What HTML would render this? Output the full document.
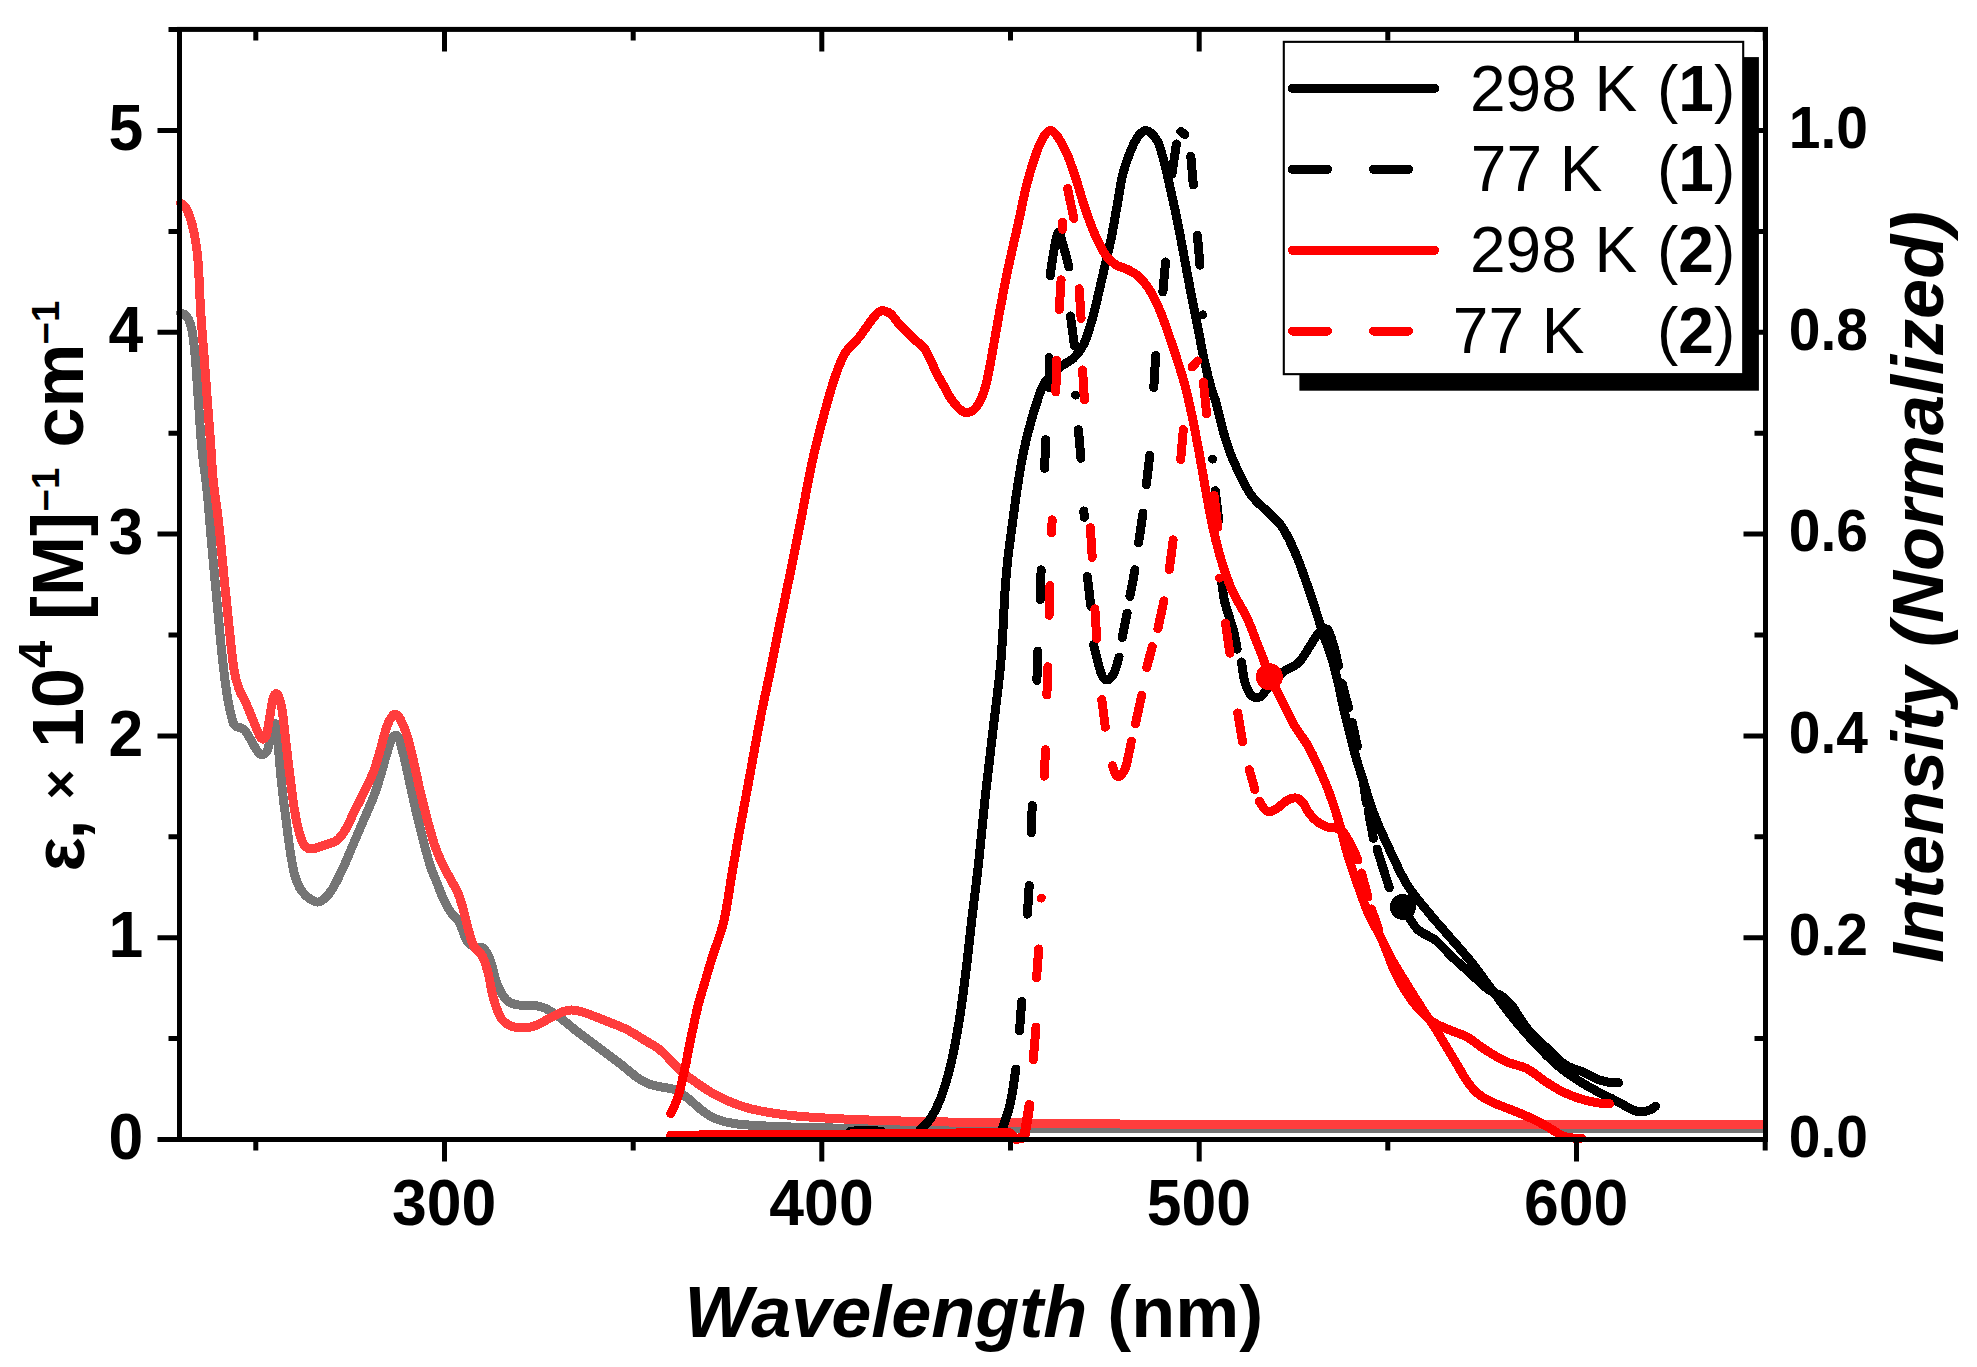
<!DOCTYPE html>
<html lang="en"><head><meta charset="utf-8"><title>Absorption and emission spectra</title>
<style>html,body{margin:0;padding:0;background:#fff}body{width:1977px;height:1367px;overflow:hidden}svg{display:block}text{font-family:"Liberation Sans",sans-serif;fill:#000}.b{font-weight:bold}.i{font-style:italic}.tk{font-weight:bold;font-size:62.5px}.tkr{font-weight:bold;font-size:57px}.ttl{font-weight:bold;font-size:72px}.lg{font-size:64px}.c{fill:none;stroke-linecap:round;stroke-linejoin:round}</style></head><body>
<svg width="1977" height="1367" viewBox="0 0 1977 1367">
<rect width="1977" height="1367" fill="#fff"/>
<g class="c" shape-rendering="crispEdges">
<path d="M180.5,313.0 C181.6,313.6 184.9,313.6 186.8,316.4 C188.7,319.2 190.5,323.2 191.9,329.9 C193.3,336.6 194.1,344.4 195.2,356.8 C196.3,369.2 197.5,388.5 198.6,404.0 C199.7,419.5 200.6,435.6 202.0,450.0 C203.4,464.4 205.3,474.2 207.0,490.5 C208.7,506.8 210.3,529.2 212.0,547.7 C213.7,566.2 215.3,583.7 217.0,601.6 C218.7,619.5 220.4,639.7 222.1,655.4 C223.8,671.1 225.5,685.1 227.2,695.8 C228.9,706.5 230.8,714.4 232.2,719.4 C233.6,724.4 233.6,724.3 235.6,726.0 C237.6,727.7 241.5,727.2 244.0,729.5 C246.5,731.8 248.4,736.0 250.7,739.6 C252.9,743.2 255.5,748.8 257.5,751.3 C259.5,753.8 260.8,755.0 262.5,754.7 C264.2,754.4 266.2,752.8 267.6,749.7 C269.0,746.6 269.9,740.2 271.0,736.2 C272.1,732.2 273.3,727.5 274.3,726.0 C275.3,724.5 276.1,721.4 277.0,727.0 C277.9,732.6 278.4,748.7 279.4,759.8 C280.3,770.9 281.6,783.3 282.7,793.4 C283.8,803.5 284.9,810.8 286.1,820.3 C287.3,829.8 288.7,841.6 290.1,850.6 C291.5,859.6 292.9,868.0 294.5,874.2 C296.1,880.4 297.6,884.1 299.6,887.7 C301.6,891.3 303.4,893.6 306.3,896.0 C309.2,898.4 313.9,901.7 317.0,902.0 C320.1,902.3 322.3,900.4 325.0,898.0 C327.7,895.6 330.1,892.8 333.2,887.7 C336.2,882.6 339.9,874.8 343.3,867.5 C346.7,860.2 350.0,851.8 353.4,843.9 C356.8,836.0 360.1,828.1 363.5,820.3 C366.9,812.4 370.8,804.1 373.6,796.8 C376.4,789.5 378.1,783.9 380.3,776.6 C382.5,769.3 385.0,759.4 387.0,753.0 C389.0,746.6 390.7,741.1 392.1,738.2 C393.5,735.3 394.4,735.6 395.5,735.6 C396.6,735.6 397.4,734.7 398.8,738.2 C400.2,741.7 401.9,748.3 403.9,756.4 C405.9,764.5 408.4,776.6 410.6,786.7 C412.9,796.8 415.1,807.5 417.4,817.0 C419.6,826.5 421.9,835.5 424.1,843.9 C426.3,852.3 428.6,860.8 430.8,867.5 C433.1,874.2 435.6,879.2 437.6,884.3 C439.6,889.4 440.8,893.4 443.0,898.0 C445.2,902.6 447.9,907.9 450.6,912.0 C453.4,916.1 456.8,918.0 459.5,922.7 C462.2,927.5 463.9,936.3 466.6,940.5 C469.3,944.7 472.8,946.5 475.5,947.7 C478.2,948.9 480.2,945.9 482.6,947.7 C485.0,949.5 487.3,952.5 489.7,958.4 C492.1,964.3 494.2,976.5 496.9,983.3 C499.6,990.1 502.5,995.7 505.8,999.3 C509.1,1002.9 511.8,1003.7 516.5,1004.7 C521.2,1005.7 529.5,1004.8 534.3,1005.4 C539.0,1006.0 540.9,1006.3 545.0,1008.2 C549.1,1010.1 553.9,1013.1 559.2,1017.0 C564.5,1020.9 570.5,1026.3 577.0,1031.4 C583.5,1036.5 591.3,1042.1 598.4,1047.4 C605.5,1052.7 613.2,1058.4 619.7,1063.4 C626.2,1068.5 632.8,1074.3 637.5,1077.7 C642.2,1081.1 645.0,1082.3 648.2,1083.7 C651.5,1085.1 652.7,1085.2 657.0,1086.2 C661.3,1087.2 669.1,1087.6 674.2,1089.6 C679.3,1091.6 683.2,1094.8 687.8,1098.2 C692.3,1101.6 696.9,1106.6 701.5,1110.0 C706.1,1113.4 709.5,1116.4 715.2,1118.7 C720.9,1121.0 725.5,1122.5 735.7,1123.8 C746.0,1125.1 758.5,1125.8 776.7,1126.5 C794.9,1127.2 807.8,1127.9 845.0,1128.2 C882.2,1128.5 847.0,1128.5 1000.0,1128.5 C1153.0,1128.5 1635.8,1128.5 1763.0,1128.5" stroke="#757575" stroke-width="9"/>
<path d="M180.5,203.0 C181.4,203.8 184.1,204.5 186.0,208.0 C187.9,211.5 190.3,217.7 192.0,224.0 C193.7,230.3 195.2,238.5 196.3,245.8 C197.4,253.1 197.8,256.8 198.5,267.8 C199.2,278.8 199.8,297.1 200.7,311.7 C201.6,326.3 202.9,341.0 204.0,355.6 C205.1,370.2 206.2,384.9 207.3,399.5 C208.4,414.1 209.6,429.9 210.6,443.3 C211.6,456.7 211.8,466.6 213.2,480.0 C214.6,493.4 217.0,508.2 218.8,524.0 C220.6,539.8 222.1,557.8 223.8,574.6 C225.5,591.4 227.2,609.3 228.9,625.0 C230.6,640.7 232.2,658.2 233.9,668.9 C235.6,679.6 237.0,683.4 239.0,689.0 C241.0,694.6 243.2,696.9 245.7,702.5 C248.2,708.1 251.6,716.8 254.1,722.7 C256.6,728.6 258.9,735.6 260.9,737.9 C262.9,740.1 264.5,739.3 265.9,736.2 C267.3,733.1 268.1,725.9 269.3,719.4 C270.5,712.9 271.9,701.6 273.3,697.5 C274.7,693.4 276.2,692.9 277.7,694.8 C279.1,696.7 280.6,701.0 282.0,709.0 C283.4,717.0 284.7,731.7 286.0,743.0 C287.3,754.3 288.6,765.4 290.0,776.6 C291.4,787.8 292.9,800.5 294.5,810.0 C296.1,819.5 297.9,827.9 299.6,833.8 C301.3,839.7 302.7,843.1 304.6,845.6 C306.6,848.1 308.2,849.0 311.3,849.0 C314.4,849.0 318.8,847.0 323.0,845.6 C327.2,844.2 332.9,843.0 336.6,840.5 C340.3,838.0 342.2,834.9 345.0,830.4 C347.8,825.9 350.3,819.8 353.4,813.6 C356.5,807.4 360.1,800.4 363.5,793.4 C366.9,786.4 370.8,778.8 373.6,771.5 C376.4,764.2 378.1,757.3 380.3,749.7 C382.5,742.1 385.0,731.6 387.0,726.0 C389.0,720.4 390.7,718.2 392.1,716.3 C393.5,714.4 394.2,713.9 395.6,714.4 C397.0,714.9 398.6,715.9 400.5,719.5 C402.4,723.1 405.1,729.0 407.3,736.2 C409.6,743.5 411.8,753.5 414.0,763.0 C416.2,772.5 418.4,783.9 420.7,793.4 C422.9,802.9 425.2,811.9 427.5,820.3 C429.8,828.7 432.0,837.2 434.2,843.9 C436.4,850.6 438.4,855.2 440.9,860.7 C443.4,866.2 446.5,871.7 449.3,877.0 C452.1,882.3 455.4,887.2 457.7,892.5 C460.0,897.8 461.2,902.3 463.0,908.5 C464.8,914.7 466.6,923.7 468.4,929.9 C470.2,936.1 471.3,941.4 473.7,945.9 C476.1,950.4 480.2,952.1 482.6,956.6 C485.0,961.1 486.2,965.8 488.0,972.6 C489.8,979.4 491.2,990.1 493.3,997.5 C495.4,1004.9 497.7,1012.5 500.4,1017.1 C503.1,1021.7 505.7,1023.5 509.3,1025.3 C512.9,1027.1 517.6,1027.7 521.8,1027.8 C526.0,1027.9 529.8,1027.5 534.3,1026.0 C538.8,1024.5 543.8,1021.3 548.5,1018.9 C553.2,1016.5 558.9,1013.3 562.8,1011.8 C566.7,1010.3 568.2,1009.9 571.7,1010.0 C575.2,1010.1 578.5,1010.7 584.1,1012.5 C589.7,1014.3 598.4,1017.9 605.5,1020.7 C612.6,1023.6 620.4,1026.3 626.9,1029.6 C633.4,1032.9 639.1,1036.8 644.7,1040.3 C650.3,1043.8 654.5,1045.2 660.5,1050.3 C666.5,1055.4 674.2,1064.8 681.0,1070.8 C687.8,1076.8 694.7,1081.6 701.5,1086.2 C708.3,1090.8 714.0,1094.5 722.0,1098.2 C730.0,1101.9 739.0,1105.7 749.3,1108.4 C759.5,1111.1 772.1,1113.1 783.5,1114.6 C794.9,1116.1 801.8,1116.6 817.7,1117.6 C833.7,1118.6 857.6,1119.7 879.2,1120.4 C900.8,1121.1 913.4,1121.4 947.5,1122.0 C981.6,1122.6 1025.2,1123.4 1084.0,1123.8 C1142.8,1124.2 1186.8,1124.4 1300.0,1124.5 C1413.2,1124.6 1685.8,1124.5 1763.0,1124.5" stroke="#ff3d3d" stroke-width="9"/>
<path d="M920.0,1130.0 C921.7,1128.1 926.9,1124.0 930.4,1118.7 C933.9,1113.4 937.3,1107.3 940.7,1098.2 C944.1,1089.1 947.8,1077.1 950.9,1064.0 C954.0,1050.9 956.8,1035.5 959.4,1019.6 C962.0,1003.6 964.2,985.6 966.3,968.3 C968.4,951.0 970.1,934.0 972.2,916.0 C974.3,898.0 976.7,880.7 978.9,860.3 C981.1,839.9 983.2,815.8 985.6,793.5 C988.0,771.2 990.8,749.0 993.4,726.8 C996.0,704.5 999.1,682.6 1001.0,660.0 C1002.9,637.4 1003.9,608.4 1005.0,591.4 C1006.1,574.4 1006.7,569.1 1007.9,558.0 C1009.1,546.9 1010.8,535.8 1012.3,524.7 C1013.8,513.6 1015.1,502.4 1016.8,491.3 C1018.5,480.2 1020.3,468.3 1022.3,457.9 C1024.3,447.5 1026.7,437.8 1029.0,429.0 C1031.3,420.2 1033.4,412.7 1036.0,405.0 C1038.6,397.3 1040.6,389.0 1044.6,382.7 C1048.6,376.4 1055.4,371.2 1060.2,367.1 C1065.0,363.0 1069.6,361.9 1073.5,358.2 C1077.4,354.5 1080.5,350.7 1083.5,344.8 C1086.5,338.9 1088.9,330.8 1091.3,322.6 C1093.7,314.5 1095.8,305.2 1098.0,295.9 C1100.2,286.6 1102.5,276.5 1104.7,266.9 C1106.9,257.2 1109.3,248.0 1111.3,238.0 C1113.3,228.0 1115.0,217.2 1116.9,206.8 C1118.8,196.4 1120.2,185.0 1122.5,175.7 C1124.8,166.4 1128.0,157.6 1130.5,151.2 C1133.0,144.8 1135.5,140.2 1137.5,137.0 C1139.5,133.8 1141.1,133.1 1142.5,132.0 C1143.9,130.9 1144.6,130.3 1146.0,130.5 C1147.4,130.7 1149.0,131.0 1151.0,133.0 C1153.0,135.0 1155.8,137.1 1158.1,142.3 C1160.4,147.6 1162.6,156.0 1164.8,164.5 C1167.0,173.0 1169.2,183.5 1171.4,193.5 C1173.6,203.5 1175.9,213.5 1178.1,224.6 C1180.3,235.7 1182.6,248.3 1184.8,260.2 C1187.0,272.1 1189.3,284.4 1191.5,295.9 C1193.7,307.4 1195.9,318.1 1198.1,329.2 C1200.3,340.3 1202.6,352.6 1204.8,362.6 C1207.0,372.6 1209.6,382.7 1211.5,389.3 C1213.4,395.9 1214.2,395.7 1216.0,402.3 C1217.8,408.9 1220.2,420.5 1222.6,429.0 C1225.0,437.5 1227.4,445.6 1230.4,453.4 C1233.4,461.2 1236.9,468.6 1240.4,475.7 C1243.9,482.8 1247.1,489.8 1251.6,495.7 C1256.0,501.6 1262.3,506.5 1267.1,511.3 C1271.9,516.1 1276.8,519.9 1280.5,524.7 C1284.2,529.5 1286.4,534.3 1289.4,540.2 C1292.4,546.1 1295.3,552.9 1298.3,560.3 C1301.3,567.7 1304.2,576.3 1307.2,584.8 C1310.2,593.3 1313.3,603.0 1316.1,611.5 C1318.9,620.0 1321.3,628.2 1323.9,636.0 C1326.5,643.8 1329.3,650.2 1331.7,658.2 C1334.1,666.2 1336.4,675.7 1338.4,684.0 C1340.4,692.3 1340.9,697.0 1343.5,708.0 C1346.1,719.0 1350.5,737.4 1354.0,750.3 C1357.5,763.2 1361.1,774.3 1364.6,785.5 C1368.1,796.7 1371.1,806.7 1375.2,817.3 C1379.3,827.9 1384.0,837.8 1389.3,849.0 C1394.6,860.2 1400.4,873.8 1406.9,884.3 C1413.4,894.8 1421.0,903.3 1428.1,912.0 C1435.1,920.7 1442.2,928.2 1449.2,936.4 C1456.2,944.6 1463.3,952.2 1470.4,961.0 C1477.5,969.8 1484.5,979.9 1491.6,989.3 C1498.6,998.7 1505.7,1008.7 1512.7,1017.5 C1519.8,1026.3 1526.9,1034.4 1533.9,1042.0 C1541.0,1049.6 1548.0,1057.1 1555.0,1063.3 C1562.0,1069.5 1569.2,1074.5 1576.2,1079.2 C1583.2,1083.9 1590.8,1088.0 1597.3,1091.5 C1603.8,1095.0 1609.1,1097.2 1615.0,1100.3 C1620.9,1103.3 1628.2,1107.8 1632.6,1109.8 C1637.0,1111.8 1638.5,1112.0 1641.4,1112.0 C1644.3,1112.0 1647.9,1110.8 1650.2,1109.8 C1652.5,1108.8 1654.6,1106.9 1655.5,1106.3" stroke="#000" stroke-width="9"/>
<path d="M850.0,1131.5 C852.7,1131.2 860.7,1130.0 866.0,1130.0 C871.3,1130.0 879.3,1131.2 882.0,1131.5" stroke="#000" stroke-width="9"/>
<path d="M1002.0,1130.0 C1003.0,1127.0 1006.3,1117.8 1008.0,1112.0 C1009.7,1106.2 1010.7,1102.2 1012.0,1095.0 C1013.3,1087.8 1015.2,1073.3 1015.8,1069.0" stroke="#000" stroke-width="9"/>
<path d="M1050.2,275.8 C1050.8,271.5 1052.6,257.3 1054.0,250.0 C1055.4,242.7 1057.0,232.8 1058.5,232.0 C1060.0,231.2 1061.2,239.2 1063.0,245.0 C1064.8,250.8 1068.0,263.3 1069.0,267.0" stroke="#000" stroke-width="9"/>
<path d="M1093.5,644.8 C1094.8,649.6 1099.1,667.9 1101.3,673.8 C1103.5,679.7 1104.9,680.0 1106.9,680.0 C1109.0,680.0 1111.6,677.6 1113.6,673.8 C1115.6,670.0 1118.2,659.9 1119.1,657.1" stroke="#000" stroke-width="9"/>
<path d="M1221.5,580.3 C1222.1,584.0 1222.9,594.1 1224.9,602.6 C1227.0,611.1 1231.8,623.7 1233.8,631.5 C1235.8,639.3 1236.5,646.3 1237.1,649.3" stroke="#000" stroke-width="9"/>
<path d="M1241.5,662.0 C1242.1,665.4 1243.2,676.7 1244.9,682.3 C1246.6,687.9 1249.0,693.2 1251.6,695.6 C1254.2,698.0 1257.9,697.8 1260.5,696.7 C1263.1,695.6 1263.4,693.1 1267.1,689.0 C1270.8,684.9 1277.5,676.5 1282.7,672.2 C1287.9,667.9 1293.8,667.2 1298.3,663.0 C1302.8,658.8 1306.1,651.9 1309.4,647.0 C1312.7,642.1 1315.3,636.7 1318.3,633.7 C1321.3,630.8 1324.7,627.4 1327.2,629.3 C1329.7,631.2 1331.6,638.9 1333.5,645.0 C1335.4,651.1 1337.7,662.5 1338.5,666.0" stroke="#000" stroke-width="9"/>
<path d="M1362.9,778.5 L1366.4,803.2" stroke="#000" stroke-width="9"/>
<path d="M1368.1,810.2 L1373.4,838.4" stroke="#000" stroke-width="9"/>
<path d="M1377.0,849.0 L1389.3,887.8" stroke="#000" stroke-width="9"/>
<path d="M1403.4,908.0 C1405.8,911.5 1412.2,924.0 1417.5,929.3 C1422.8,934.6 1429.2,935.2 1435.1,939.9 C1441.0,944.6 1446.9,951.9 1452.8,957.5 C1458.7,963.1 1464.5,968.1 1470.4,973.4 C1476.3,978.7 1482.7,985.5 1488.0,989.3 C1493.3,993.1 1498.0,993.4 1502.1,996.3 C1506.2,999.2 1508.6,1001.6 1512.7,1006.9 C1516.8,1012.2 1520.9,1021.0 1526.8,1028.0 C1532.7,1035.0 1541.5,1043.0 1548.0,1049.2 C1554.5,1055.4 1559.7,1061.2 1565.6,1065.0 C1571.5,1068.8 1577.9,1069.7 1583.2,1072.1 C1588.5,1074.5 1592.6,1077.4 1597.3,1079.2 C1602.0,1081.0 1607.9,1082.1 1611.4,1082.7 C1614.9,1083.3 1617.3,1082.7 1618.5,1082.7" stroke="#000" stroke-width="9"/>
<path d="M1019.5,1031.0 L1021.7,1001.4 M1027.4,914.2 L1029.2,885.5 M1031.3,832.9 L1032.2,805.3 M1036.9,680.5 L1037.8,651.0 M1040.2,599.7 L1041.1,569.8 M1044.7,468.4 L1045.6,439.6 M1049.0,387.6 L1049.0,357.7 M1070.5,316.0 L1074.5,346.0 M1075.7,395.0 L1075.7,395.1 M1078.4,429.6 L1080.9,458.3 M1083.8,510.9 L1084.3,517.3 M1087.4,576.5 L1090.8,606.4 M1122.2,637.6 L1127.2,613.1 M1129.9,596.4 L1135.0,569.7 M1138.6,542.9 L1143.0,513.0 M1146.3,485.0 L1149.8,455.2 M1153.8,387.6 L1155.7,355.5 M1162.9,291.9 L1165.5,262.0 M1172.0,173.9 L1176.4,144.0 M1180.8,131.5 L1185.0,134.5 M1190.8,156.3 L1193.3,185.0 M1197.4,235.3 L1200.0,265.2 M1202.6,314.8 L1202.7,314.9 M1212.6,459.0 L1212.7,459.1 M1215.3,490.8 L1218.8,520.7 M1342.2,683.7 L1348.5,707.6 M1352.2,722.4 L1357.4,746.4" stroke="#000" stroke-width="9"/>
<path d="M670.7,1113.5 C671.9,1110.9 675.3,1105.1 677.6,1098.0 C679.9,1090.9 682.1,1081.0 684.4,1070.8 C686.7,1060.6 688.9,1047.5 691.2,1036.7 C693.5,1025.9 695.7,1015.0 698.0,1005.9 C700.3,996.8 702.4,990.5 704.9,982.0 C707.4,973.5 709.8,965.2 713.0,955.0 C716.2,944.8 720.7,934.9 724.0,920.7 C727.3,906.5 729.8,886.3 732.6,870.0 C735.4,853.7 737.9,839.8 741.0,823.0 C744.1,806.2 747.7,787.0 751.0,769.0 C754.3,751.0 757.7,731.8 761.0,715.0 C764.3,698.2 767.7,684.2 771.0,668.0 C774.3,651.8 777.6,634.8 781.0,618.0 C784.4,601.2 788.3,582.5 791.5,567.0 C794.7,551.5 796.6,542.2 800.0,525.0 C803.4,507.8 807.8,482.0 811.7,464.0 C815.6,446.0 819.5,431.4 823.4,416.8 C827.3,402.2 831.6,387.1 835.2,376.4 C838.9,365.7 841.4,359.2 845.3,352.8 C849.2,346.4 854.3,343.3 858.8,337.7 C863.3,332.1 868.8,323.5 872.2,319.2 C875.6,314.9 877.0,313.2 879.0,311.8 C881.0,310.4 882.0,310.4 884.0,310.8 C886.0,311.2 888.1,311.6 890.8,314.0 C893.5,316.4 896.1,320.8 900.0,325.0 C903.9,329.2 910.0,335.3 913.9,339.0 C917.8,342.7 920.9,344.1 923.6,347.3 C926.3,350.5 927.8,354.2 929.9,358.4 C932.0,362.6 933.9,367.9 936.1,372.3 C938.3,376.7 940.8,380.6 943.1,384.8 C945.4,389.0 947.7,393.7 950.0,397.3 C952.3,400.9 954.9,404.1 957.0,406.4 C959.1,408.7 960.8,410.2 962.5,411.2 C964.2,412.2 965.5,412.8 967.4,412.6 C969.3,412.4 971.7,411.4 973.7,409.8 C975.7,408.2 977.6,405.7 979.2,402.9 C980.8,400.1 982.1,396.9 983.4,393.2 C984.7,389.5 985.8,385.5 986.9,380.6 C988.0,375.7 989.0,370.7 990.3,364.0 C991.6,357.3 993.1,348.2 994.5,340.3 C995.9,332.4 997.3,324.3 998.7,316.7 C1000.1,309.1 1001.5,301.7 1002.9,294.5 C1004.3,287.3 1005.6,280.3 1007.0,273.6 C1008.4,266.9 1009.4,262.3 1011.2,254.2 C1013.0,246.1 1015.3,236.6 1017.9,225.0 C1020.5,213.4 1023.6,196.9 1026.8,184.6 C1030.0,172.3 1034.0,159.4 1037.0,151.2 C1040.0,143.0 1042.2,138.9 1044.5,135.5 C1046.8,132.1 1048.6,130.3 1050.8,130.5 C1053.0,130.7 1054.8,132.7 1057.5,136.5 C1060.2,140.3 1063.8,146.5 1066.8,153.4 C1069.8,160.3 1072.7,169.0 1075.7,177.9 C1078.7,186.8 1081.6,197.9 1084.6,206.8 C1087.6,215.7 1090.2,223.5 1093.5,231.3 C1096.8,239.1 1101.0,248.0 1104.7,253.6 C1108.4,259.2 1112.1,262.1 1115.8,264.7 C1119.5,267.3 1123.2,267.3 1126.9,269.2 C1130.6,271.1 1134.3,272.5 1138.0,275.8 C1141.7,279.1 1145.5,283.3 1149.2,289.2 C1152.9,295.1 1157.0,303.6 1160.3,311.4 C1163.6,319.2 1166.2,327.4 1169.2,335.9 C1172.2,344.4 1175.5,354.4 1178.1,362.6 C1180.7,370.8 1182.6,376.4 1184.8,384.9 C1187.0,393.4 1189.1,402.0 1191.5,413.4 C1193.9,424.8 1196.9,440.4 1199.3,453.4 C1201.7,466.4 1203.5,478.3 1205.9,491.3 C1208.3,504.3 1210.9,519.1 1213.7,531.3 C1216.5,543.5 1219.4,554.7 1222.6,564.7 C1225.8,574.7 1228.5,582.5 1232.6,591.4 C1236.7,600.3 1243.2,609.9 1247.1,618.1 C1251.0,626.3 1253.2,633.4 1256.0,640.4 C1258.8,647.4 1261.6,654.3 1263.8,660.4 C1266.0,666.5 1266.6,670.5 1269.4,676.7 C1272.2,682.9 1276.4,689.8 1280.5,697.8 C1284.6,705.8 1289.3,716.7 1293.8,724.5 C1298.2,732.3 1303.1,737.6 1307.2,744.6 C1311.3,751.6 1314.6,758.6 1318.3,766.8 C1322.0,774.9 1326.2,784.6 1329.5,793.5 C1332.8,802.4 1335.4,810.2 1338.4,820.2 C1341.4,830.2 1344.0,842.5 1347.3,853.6 C1350.6,864.7 1354.8,876.8 1358.4,887.0 C1362.0,897.2 1365.1,906.2 1369.0,915.0 C1372.9,923.8 1377.4,930.0 1382.0,940.0 C1386.6,950.0 1391.1,964.6 1396.4,975.2 C1401.7,985.8 1408.1,995.8 1414.0,1003.4 C1419.9,1011.0 1425.7,1016.6 1431.6,1021.0 C1437.5,1025.4 1443.3,1027.1 1449.2,1029.8 C1455.1,1032.5 1461.0,1033.7 1466.9,1036.9 C1472.8,1040.1 1478.0,1045.1 1484.5,1049.2 C1491.0,1053.3 1498.7,1058.3 1505.7,1061.5 C1512.8,1064.7 1520.3,1065.4 1526.8,1068.6 C1533.2,1071.8 1538.5,1077.1 1544.4,1080.9 C1550.3,1084.7 1556.2,1088.5 1562.1,1091.5 C1568.0,1094.5 1573.8,1096.7 1579.7,1098.6 C1585.6,1100.5 1592.3,1101.9 1597.3,1102.8 C1602.3,1103.7 1607.6,1103.6 1609.7,1103.8" stroke="#ff0000" stroke-width="9"/>
<path d="M1112.5,765.7 C1113.0,767.2 1114.5,772.9 1115.8,774.6 C1117.1,776.3 1118.5,777.0 1120.2,775.7 C1121.9,774.4 1123.9,772.5 1125.8,766.8 C1127.7,761.0 1130.5,745.5 1131.4,741.2" stroke="#ff0000" stroke-width="9"/>
<path d="M1259.3,801.3 C1260.6,803.0 1264.3,810.0 1267.1,811.3 C1269.9,812.6 1272.7,811.0 1276.0,809.1 C1279.3,807.2 1283.9,802.1 1287.2,800.2 C1290.5,798.4 1293.5,797.6 1296.1,798.0 C1298.7,798.4 1300.5,799.8 1302.7,802.4 C1304.9,805.0 1306.8,810.2 1309.4,813.6 C1312.0,817.0 1315.3,820.3 1318.3,822.5 C1321.3,824.7 1324.2,826.0 1327.2,826.9 C1330.2,827.8 1333.5,827.2 1336.1,828.0 C1338.7,828.8 1341.7,830.8 1342.8,831.4" stroke="#ff0000" stroke-width="9"/>
<path d="M1342.8,831.4 C1344.0,833.3 1347.5,838.2 1350.0,843.0 C1352.5,847.8 1356.7,857.2 1358.0,860.0" stroke="#ff0000" stroke-width="9"/>
<path d="M1361.5,873.0 L1368.0,897.0" stroke="#ff0000" stroke-width="9"/>
<path d="M1371.5,909.0 L1378.5,929.0" stroke="#ff0000" stroke-width="9"/>
<path d="M1383.0,942.0 C1384.3,944.7 1387.6,951.9 1391.0,958.0 C1394.4,964.1 1398.4,970.6 1403.4,978.7 C1408.4,986.9 1415.7,998.7 1421.0,1006.9 C1426.3,1015.1 1431.0,1021.5 1435.1,1028.0 C1439.2,1034.5 1442.2,1039.8 1445.7,1045.7 C1449.2,1051.6 1452.8,1057.4 1456.3,1063.3 C1459.8,1069.2 1463.4,1075.9 1466.9,1080.9 C1470.4,1085.9 1473.4,1089.8 1477.5,1093.3 C1481.6,1096.8 1486.3,1099.4 1491.6,1102.0 C1496.9,1104.6 1503.3,1106.6 1509.2,1109.0 C1515.1,1111.4 1520.9,1113.5 1526.8,1116.2 C1532.7,1118.9 1538.5,1121.8 1544.4,1125.0 C1550.3,1128.2 1557.4,1133.4 1562.1,1135.6 C1566.8,1137.8 1569.5,1137.6 1572.7,1138.0 C1575.9,1138.4 1580.0,1138.0 1581.5,1138.0" stroke="#ff0000" stroke-width="9"/>
<path d="M1033.2,1060.0 L1036.0,1027.0 M1036.6,978.0 L1038.7,948.9 M1041.2,898.1 L1041.3,898.0 M1044.3,776.2 L1045.5,749.7 M1046.9,695.0 L1047.8,666.7 M1049.1,615.3 L1050.0,585.4 M1051.5,532.9 L1052.2,519.8 M1055.8,392.0 L1056.7,360.0 M1059.2,309.7 L1061.1,279.8 M1062.5,229.5 L1062.7,222.0 M1067.6,188.5 L1073.8,218.5 M1079.2,288.7 L1081.1,318.6 M1082.6,370.0 L1084.4,400.0 M1090.4,527.6 L1092.2,557.4 M1094.9,608.8 L1096.7,638.6 M1101.8,699.6 L1105.3,727.2 M1135.5,724.0 L1141.7,695.1 M1146.8,667.7 L1152.2,646.5 M1157.9,628.7 L1163.9,600.9 M1169.3,569.6 L1173.2,539.8 M1180.7,459.5 L1183.3,429.6 M1192.1,367.0 L1197.4,361.0 M1203.4,382.0 L1206.6,413.8 M1214.1,495.3 L1217.8,527.3 M1219.3,578.0 L1219.4,578.1 M1225.5,623.3 L1229.8,653.1 M1237.7,712.9 L1242.5,741.8 M1249.3,769.6 L1254.9,789.6" stroke="#ff0000" stroke-width="9"/>
<path d="M671.0,1135.7 L850.0,1134.5 L1009.0,1133.0 L1015.8,1139.0 L1024.3,1137.4 L1029.5,1105.0" stroke="#ff0000" stroke-width="10"/>
</g>
<circle cx="1269.4" cy="676.7" r="13.5" fill="#ff0000" shape-rendering="crispEdges"/>
<circle cx="1403" cy="907" r="13" fill="#000" shape-rendering="crispEdges"/>
<g stroke="#000" stroke-width="5" fill="none" stroke-linecap="butt">
<rect x="179.5" y="29.4" width="1586.0" height="1110.1"/>
<path d="M157.5,1139.5H179.5M168.5,1038.6H179.5M157.5,937.7H179.5M168.5,836.8H179.5M157.5,735.9H179.5M168.5,635.0H179.5M157.5,534.1H179.5M168.5,433.2H179.5M157.5,332.3H179.5M168.5,231.4H179.5M157.5,130.5H179.5M168.5,29.6H179.5M1743.5,1139.5H1765.5M1754.5,1038.6H1765.5M1743.5,937.7H1765.5M1754.5,836.8H1765.5M1743.5,735.9H1765.5M1754.5,635.0H1765.5M1743.5,534.1H1765.5M1754.5,433.2H1765.5M1743.5,332.3H1765.5M1754.5,231.4H1765.5M1743.5,130.5H1765.5M1754.5,29.6H1765.5M255.8,1139.5V1150.5M255.8,29.4V40.4M444.5,1139.5V1161.5M444.5,29.4V51.4M633.2,1139.5V1150.5M633.2,29.4V40.4M821.8,1139.5V1161.5M821.8,29.4V51.4M1010.5,1139.5V1150.5M1010.5,29.4V40.4M1199.2,1139.5V1161.5M1199.2,29.4V51.4M1387.8,1139.5V1150.5M1387.8,29.4V40.4M1576.5,1139.5V1161.5M1576.5,29.4V51.4M1765.2,1139.5V1150.5M1765.2,29.4V40.4"/>
</g>
<text class="tk" transform="translate(143.3,1159.1) scale(1,1.05)" text-anchor="end">0</text>
<text class="tk" transform="translate(143.3,957.3) scale(1,1.05)" text-anchor="end">1</text>
<text class="tk" transform="translate(143.3,755.5) scale(1,1.05)" text-anchor="end">2</text>
<text class="tk" transform="translate(143.3,553.7) scale(1,1.05)" text-anchor="end">3</text>
<text class="tk" transform="translate(143.3,351.9) scale(1,1.05)" text-anchor="end">4</text>
<text class="tk" transform="translate(143.3,150.1) scale(1,1.05)" text-anchor="end">5</text>
<text class="tkr" transform="translate(1788.7,1156.8) scale(1,1.05)">0.0</text>
<text class="tkr" transform="translate(1788.7,955.0) scale(1,1.05)">0.2</text>
<text class="tkr" transform="translate(1788.7,753.2) scale(1,1.05)">0.4</text>
<text class="tkr" transform="translate(1788.7,551.4) scale(1,1.05)">0.6</text>
<text class="tkr" transform="translate(1788.7,349.6) scale(1,1.05)">0.8</text>
<text class="tkr" transform="translate(1788.7,147.8) scale(1,1.05)">1.0</text>
<text class="tk" transform="translate(444.2,1225) scale(1,1.05)" text-anchor="middle">300</text>
<text class="tk" transform="translate(821.5,1225) scale(1,1.05)" text-anchor="middle">400</text>
<text class="tk" transform="translate(1198.9,1225) scale(1,1.05)" text-anchor="middle">500</text>
<text class="tk" transform="translate(1576.2,1225) scale(1,1.05)" text-anchor="middle">600</text>
<text class="ttl" x="684.5" y="1337.1"><tspan class="i">Wavelength</tspan> (nm)</text>
<text class="ttl" style="font-size:72px" transform="translate(84,871.6) rotate(-90)">ε</text>
<text class="ttl" style="font-size:72px" transform="translate(84,839.5) rotate(-90)">,</text>
<text class="ttl" style="font-size:51.5px" transform="translate(78,799.5) rotate(-90)">×</text>
<text class="ttl" style="font-size:72px" transform="translate(83,748) rotate(-90)">10</text>
<text class="ttl" style="font-size:49px" transform="translate(52,668) rotate(-90)">4</text>
<text class="ttl" style="font-size:72px" transform="translate(83,620) rotate(-90)">[M]</text>
<text class="ttl" style="font-size:38.5px" transform="translate(59.3,511.5) rotate(-90)">−1</text>
<text class="ttl" style="font-size:72px" transform="translate(83,447.5) rotate(-90)">cm</text>
<text class="ttl" style="font-size:38.5px" transform="translate(59.3,344.5) rotate(-90)">−1</text>
<text class="ttl i" transform="translate(1943.4,963) rotate(-90)">Intensity (Normalized)</text>
<rect x="1299.4" y="57.1" width="459.5" height="333.6" fill="#000"/>
<rect x="1283.8" y="41.85" width="459.4" height="332.3" fill="#fff" stroke="#000" stroke-width="2.1"/>
<g fill="none" stroke-linecap="round" stroke-width="9" shape-rendering="crispEdges">
<path d="M1292.3,88.3H1434.7" stroke="#000"/>
<path d="M1292.3,169.3H1327.6M1373.5,169.3H1408.6" stroke="#000"/>
<path d="M1292.3,250.2H1434.7" stroke="#f00"/>
<path d="M1292.3,331H1327.6M1373.5,331H1408.6" stroke="#f00"/>
</g>
<text class="lg" x="1470" y="110.8">298 K</text>
<text class="lg" x="1657" y="110.8">(<tspan class="b">1</tspan>)</text>
<text class="lg" x="1470.8" y="190.9">77 K</text>
<text class="lg" x="1657" y="190.9">(<tspan class="b">1</tspan>)</text>
<text class="lg" x="1470" y="271.7">298 K</text>
<text class="lg" x="1657" y="271.7">(<tspan class="b">2</tspan>)</text>
<text class="lg" x="1452.8" y="352.7">77 K</text>
<text class="lg" x="1657" y="352.7">(<tspan class="b">2</tspan>)</text>
</svg></body></html>
